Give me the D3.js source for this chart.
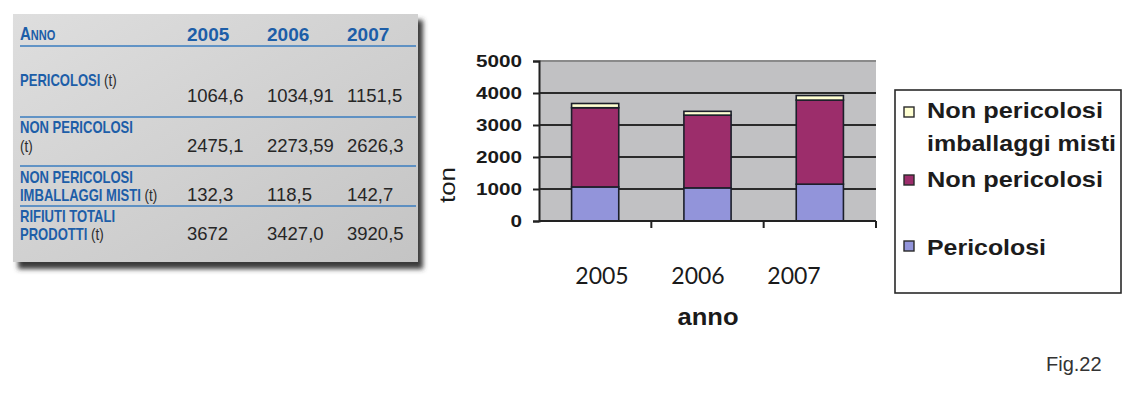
<!DOCTYPE html>
<html>
<head>
<meta charset="utf-8">
<script src="https://cdn.jsdelivr.net/npm/d3@7/dist/d3.min.js"></script>
<style>
  html, body { margin: 0; padding: 0; background: #ffffff; }
  svg { display: block; }
</style>
</head>
<body>
<svg id="fig" width="1122" height="396"></svg>
<script>
// ---- data ----
const years = ["2005", "2006", "2007"];
const pericolosiLabels = ["1064,6", "1034,91", "1151,5"];
const nonPericolosiLabels = ["2475,1", "2273,59", "2626,3"];
const imballaggiLabels = ["132,3", "118,5", "142,7"];
const totaliLabels = ["3672", "3427,0", "3920,5"];
const yTicks = [0, 1000, 2000, 3000, 4000, 5000];
const seriesNames = ["Pericolosi", "Non pericolosi", "Non pericolosi imballaggi misti"];
const seriesColors = ["#9294da", "#9c2d6b", "#ffffd2"];

const num = s => parseFloat(s.replace(",", "."));
const pericolosi = pericolosiLabels.map(num);
const nonPericolosi = nonPericolosiLabels.map(num);
const imballaggi = imballaggiLabels.map(num);

const svg = d3.select("#fig");
const defs = svg.append("defs");

// ---------------- table panel ----------------
const grad = defs.append("linearGradient").attr("id", "panelGrad")
  .attr("x1", "0").attr("y1", "0").attr("x2", "1").attr("y2", "1");
grad.append("stop").attr("offset", "0").attr("stop-color", "#dedede");
grad.append("stop").attr("offset", "1").attr("stop-color", "#c4c4c4");
const shadow = defs.append("filter").attr("id", "panelShadow")
  .attr("x", "-5%").attr("y", "-5%").attr("width", "115%").attr("height", "120%");
shadow.append("feGaussianBlur").attr("stdDeviation", 2.5);

const tbl = svg.append("g");
tbl.append("rect").attr("x", 18).attr("y", 20).attr("width", 405).attr("height", 249)
  .attr("fill", "#3a3a3a").attr("filter", "url(#panelShadow)");
tbl.append("rect").attr("x", 13).attr("y", 14).attr("width", 405).attr("height", 248)
  .attr("fill", "url(#panelGrad)");

const blue = "#1d5ea8";
const sans = "'Liberation Sans', Arial, sans-serif";
const colX = d3.scalePoint().domain(years).range([187, 347]);

// condensed label text: horizontally squeezed sans
function narrowText(parent, x, yPos) {
  return parent.append("text")
    .attr("transform", `translate(${x},${yPos}) scale(0.79,1)`)
    .attr("font-family", sans);
}

// header
const anno = narrowText(tbl, 20, 40).attr("font-weight", "bold").attr("fill", blue);
anno.append("tspan").attr("font-size", 19).text("A");
anno.append("tspan").attr("font-size", 14).text("NNO");
tbl.selectAll("text.hdr").data(years).join("text").attr("class", "hdr")
  .attr("x", d => colX(d)).attr("y", 41)
  .attr("font-family", sans).attr("font-weight", "bold").attr("font-size", 19)
  .attr("fill", blue).text(d => d);

// separator lines
[46, 117, 166, 206].forEach(yy => {
  tbl.append("line").attr("x1", 20).attr("x2", 416).attr("y1", yy).attr("y2", yy)
    .attr("stroke", "#3a7cbf").attr("stroke-width", 1.6);
});

const rows = [
  { lines: [["PERICOLOSI", " (t)"]], base: [86], vals: pericolosiLabels, vy: 102 },
  { lines: [["NON PERICOLOSI", ""], ["", "(t)"]], base: [133, 152], vals: nonPericolosiLabels, vy: 152 },
  { lines: [["NON PERICOLOSI", ""], ["IMBALLAGGI MISTI", " (t)"]], base: [183, 201], vals: imballaggiLabels, vy: 201 },
  { lines: [["RIFIUTI TOTALI", ""], ["PRODOTTI", " (t)"]], base: [222, 240], vals: totaliLabels, vy: 240 }
];
rows.forEach(r => {
  r.lines.forEach((ln, i) => {
    const t = narrowText(tbl, 20, r.base[i]).attr("font-size", 16.5);
    if (ln[0]) t.append("tspan").attr("font-weight", "bold").attr("fill", blue).text(ln[0]);
    if (ln[1]) t.append("tspan").attr("fill", "#2b2b2b").attr("font-size", 17).text(ln[1]);
  });
  tbl.selectAll(null).data(r.vals).join("text")
    .attr("x", (d, i) => colX(years[i])).attr("y", r.vy)
    .attr("font-family", sans).attr("font-size", 18.5).attr("fill", "#262626")
    .text(d => d);
});

// ---------------- stacked bar chart ----------------
const plot = { left: 539, right: 876, top: 61, bottom: 221 };
const x = d3.scaleBand().domain(years).range([plot.left, plot.right])
  .paddingInner(0.58).paddingOuter(0.29);
const y = d3.scaleLinear().domain([0, 5000]).range([plot.bottom, plot.top]);

const chart = svg.append("g");
chart.append("rect").attr("x", plot.left).attr("y", plot.top)
  .attr("width", plot.right - plot.left).attr("height", plot.bottom - plot.top)
  .attr("fill", "#c1c1c3");

// gridlines
chart.selectAll("line.grid").data(yTicks.filter(v => v > 0)).join("line")
  .attr("class", "grid")
  .attr("x1", plot.left).attr("x2", plot.right)
  .attr("y1", d => y(d)).attr("y2", d => y(d))
  .attr("stroke", d => d === 5000 ? "#8a8a8a" : "#2a2a2a").attr("stroke-width", 2);

// stacked series
const table = years.map((yr, i) => ({
  year: yr,
  "Pericolosi": pericolosi[i],
  "Non pericolosi": nonPericolosi[i],
  "Non pericolosi imballaggi misti": imballaggi[i]
}));
const stack = d3.stack().keys(seriesNames)(table);
chart.selectAll("g.series").data(stack).join("g").attr("class", "series")
  .attr("fill", (d, i) => seriesColors[i])
  .selectAll("rect").data(d => d).join("rect")
  .attr("x", d => x(d.data.year)).attr("width", x.bandwidth())
  .attr("y", d => y(d[1])).attr("height", d => y(d[0]) - y(d[1]))
  .attr("stroke", "#1c1f2a").attr("stroke-width", 1.6);

// y axis
const yAxis = chart.append("g").attr("transform", `translate(${plot.left},0)`)
  .call(d3.axisLeft(y).tickValues(yTicks).tickSize(6).tickPadding(11).tickFormat(d3.format("d")));
yAxis.select(".domain").attr("stroke", "#222").attr("stroke-width", 2);
yAxis.selectAll(".tick line").attr("stroke", "#222").attr("stroke-width", 2);
yAxis.selectAll(".tick text")
  .attr("font-family", sans).attr("font-weight", "bold")
  .attr("font-size", 16).attr("fill", "#1a1a1a")
  .attr("textLength", d => String(d).length * 11.5).attr("lengthAdjust", "spacingAndGlyphs");

// x axis: line with ticks at the category boundaries
const xAxisG = chart.append("g");
xAxisG.append("line").attr("x1", plot.left).attr("x2", plot.right)
  .attr("y1", plot.bottom).attr("y2", plot.bottom).attr("stroke", "#222").attr("stroke-width", 2);
const bounds = years.map(d => x(d) - x.step() * x.paddingOuter()).slice(1).concat([plot.right]);
xAxisG.selectAll("line.xt").data(bounds).join("line").attr("class", "xt")
  .attr("x1", d => d).attr("x2", d => d)
  .attr("y1", plot.bottom).attr("y2", plot.bottom + 7)
  .attr("stroke", "#222").attr("stroke-width", 2);

// year labels below the axis
const xLab = d3.scalePoint().domain(years).range([602, 794]);
chart.selectAll("text.yr").data(years).join("text").attr("class", "yr")
  .attr("x", d => xLab(d)).attr("y", 284).attr("text-anchor", "middle")
  .attr("font-family", "Lato, sans-serif").attr("font-size", 23).attr("fill", "#1a1a1a")
  .text(d => d);

// axis titles
chart.append("text").attr("x", 708).attr("y", 325).attr("text-anchor", "middle")
  .attr("font-family", sans).attr("font-weight", "bold")
  .attr("font-size", 24).attr("fill", "#1a1a1a")
  .attr("textLength", 61).attr("lengthAdjust", "spacingAndGlyphs").text("anno");
chart.append("text").attr("transform", "translate(455,185) rotate(-90)")
  .attr("text-anchor", "middle")
  .attr("font-family", sans)
  .attr("font-size", 22).attr("fill", "#1a1a1a")
  .attr("textLength", 36).attr("lengthAdjust", "spacingAndGlyphs").text("ton");

// legend
const leg = svg.append("g");
leg.append("rect").attr("x", 895).attr("y", 90).attr("width", 226).attr("height", 203)
  .attr("fill", "#ffffff").attr("stroke", "#2a2a2a").attr("stroke-width", 1.6);
const legItems = [
  { i: 2, sy: 107, lines: [["Non pericolosi", 118, 176], ["imballaggi misti", 151, 189]] },
  { i: 1, sy: 175, lines: [["Non pericolosi", 187, 176]] },
  { i: 0, sy: 241, lines: [["Pericolosi", 255, 119]] }
];
legItems.forEach(it => {
  leg.append("rect").attr("x", 904).attr("y", it.sy).attr("width", 10).attr("height", 10)
    .attr("fill", seriesColors[it.i]).attr("stroke", "#2a2a2a").attr("stroke-width", 1.4);
  it.lines.forEach(([txt, by, w]) => {
    leg.append("text").attr("x", 927).attr("y", by)
      .attr("font-family", sans).attr("font-weight", "bold")
      .attr("font-size", 21.5).attr("fill", "#1c1c1c")
      .attr("textLength", w).attr("lengthAdjust", "spacingAndGlyphs").text(txt);
  });
});

// figure number
svg.append("text").attr("x", 1046).attr("y", 371)
  .attr("font-family", sans).attr("font-size", 20)
  .attr("fill", "#333").text("Fig.22");
</script>
</body>
</html>
